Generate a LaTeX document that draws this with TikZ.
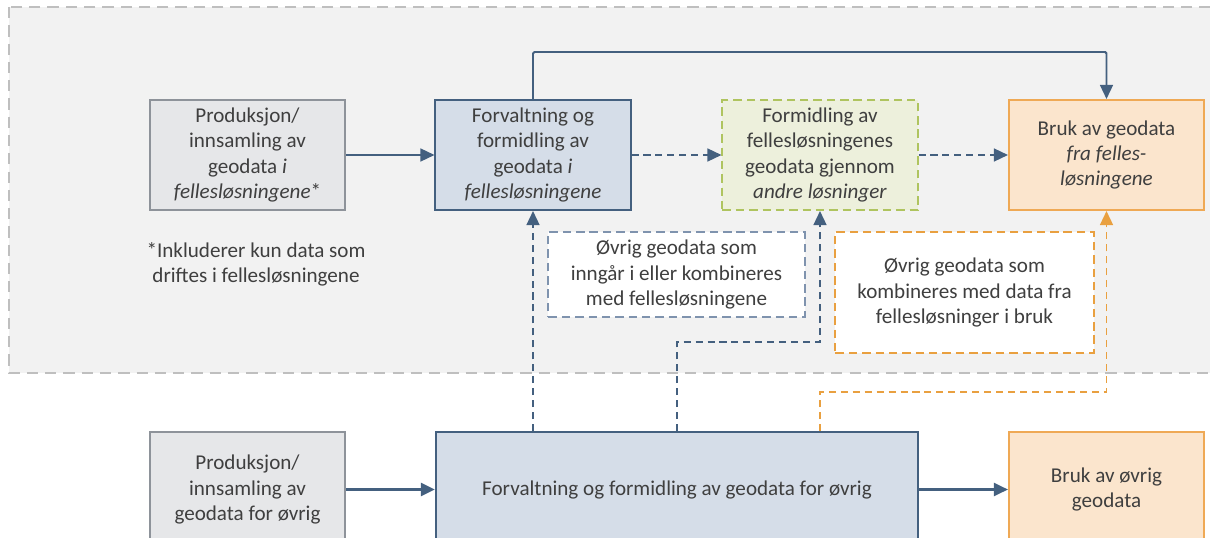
\documentclass[tikz,border=0pt]{standalone}
\usepackage{fontspec}
\setmainfont{Carlito}
\usetikzlibrary{arrows.meta}

\definecolor{txtgray}{HTML}{3F3F3F}
\definecolor{areafill}{HTML}{F2F2F2}
\definecolor{arealine}{HTML}{BFBFBF}
\definecolor{prodfill}{HTML}{E6E7E9}
\definecolor{prodline}{HTML}{8E939A}
\definecolor{forvfill}{HTML}{D5DDE8}
\definecolor{forvline}{HTML}{44607F}
\definecolor{formfill}{HTML}{EDF0DC}
\definecolor{formline}{HTML}{AFC45F}
\definecolor{brukfill}{HTML}{FBE5CD}
\definecolor{brukline}{HTML}{EFA955}
\definecolor{ovrigline}{HTML}{7F93AE}
\definecolor{orangedash}{HTML}{E9A040}

\tikzset{
  box/.style={draw, line width=1.4pt, align=center, inner sep=0pt, text=txtgray,
    minimum width=4.875cm, minimum height=2.75cm, font=\fontsize{15}{18}\selectfont},
  prodbox/.style={box, fill=prodfill, draw=prodline},
  forvbox/.style={box, fill=forvfill, draw=forvline},
  formbox/.style={box, fill=formfill, draw=formline, dash pattern=on 6pt off 3.5pt},
  brukbox/.style={box, fill=brukfill, draw=brukline},
  notebox/.style={box, fill=white, minimum width=6.4cm, minimum height=2.125cm,
    dash pattern=on 6pt off 3.5pt},
  flow/.style={line width=1.4pt, draw=forvline, -{Triangle[length=0.35cm,width=0.32cm]}},
  dashflow/.style={flow, dash pattern=on 5pt off 3.5pt},
}

\begin{document}
\begin{tikzpicture}[x=0.025cm, y=-0.025cm]
  \useasboundingbox (0,0) rectangle (1210,538);
  \clip (0,0) rectangle (1210,538);

  % grey area for fellesloesningene
  \draw[fill=areafill, draw=arealine, line width=1.4pt, dash pattern=on 8pt off 5pt]
    (9,7) rectangle (1240,373);

  % upper row
  \node[prodbox] (prodfelles) at (247.5,155) {Produksjon/\\innsamling av\\geodata \textit{i}\\\textit{fellesløsningene}*};
  \node[forvbox] (forvfelles) at (533,155) {Forvaltning og\\formidling av\\geodata \textit{i}\\\textit{fellesløsningene}};
  \node[formbox] (formandre) at (820,155) {Formidling av\\fellesløsningenes\\geodata gjennom\\\textit{andre løsninger}};
  \node[brukbox] (brukfelles) at (1106.5,155) {Bruk av geodata\\\textit{fra felles-}\\\textit{løsningene}};

  \node[text=txtgray, align=center, font=\fontsize{15}{18}\selectfont] (note) at (256,264)
    {*Inkluderer kun data som\\driftes i fellesløsningene};

  \node[notebox, draw=ovrigline] (ovriginn) at (676.5,274.5)
    {Øvrig geodata som\\inngår i eller kombineres\\med fellesløsningene};
  \node[notebox, draw=orangedash, minimum width=6.45cm, minimum height=3.025cm] (ovrigkomb) at (964.5,292.5)
    {Øvrig geodata som\\kombineres med data fra\\fellesløsninger i bruk};

  % lower row
  \node[prodbox, minimum height=2.875cm] (prodovrig) at (247.5,489.5) {Produksjon/\\innsamling av\\geodata for øvrig};
  \node[forvbox, minimum width=12.05cm, minimum height=2.875cm] (forvovrig) at (677,489.5)
    {Forvaltning og formidling av geodata for øvrig};
  \node[brukbox, minimum height=2.875cm] (brukovrig) at (1106.5,489.5) {Bruk av øvrig\\geodata};

  % connectors
  \draw[flow] (prodfelles) -- (forvfelles);
  \draw[dashflow] (forvfelles) -- (formandre);
  \draw[dashflow] (formandre) -- (brukfelles);
  \draw[flow, rounded corners=1pt] (forvfelles.north) -- ++(0,-47) -| (brukfelles.north);

  \draw[flow, line width=2pt] (prodovrig) -- (forvovrig);
  \draw[flow, line width=2pt] (forvovrig) -- (brukovrig);

  \draw[dashflow] (forvfelles.south |- forvovrig.north) -- (forvfelles.south);
  \draw[dashflow] (forvovrig.north) -- ++(0,-89) -| (formandre.south);
  \draw[dashflow, draw=orangedash] (formandre.south |- forvovrig.north) -- ++(0,-39) -| (brukfelles.south);
\end{tikzpicture}
\end{document}
